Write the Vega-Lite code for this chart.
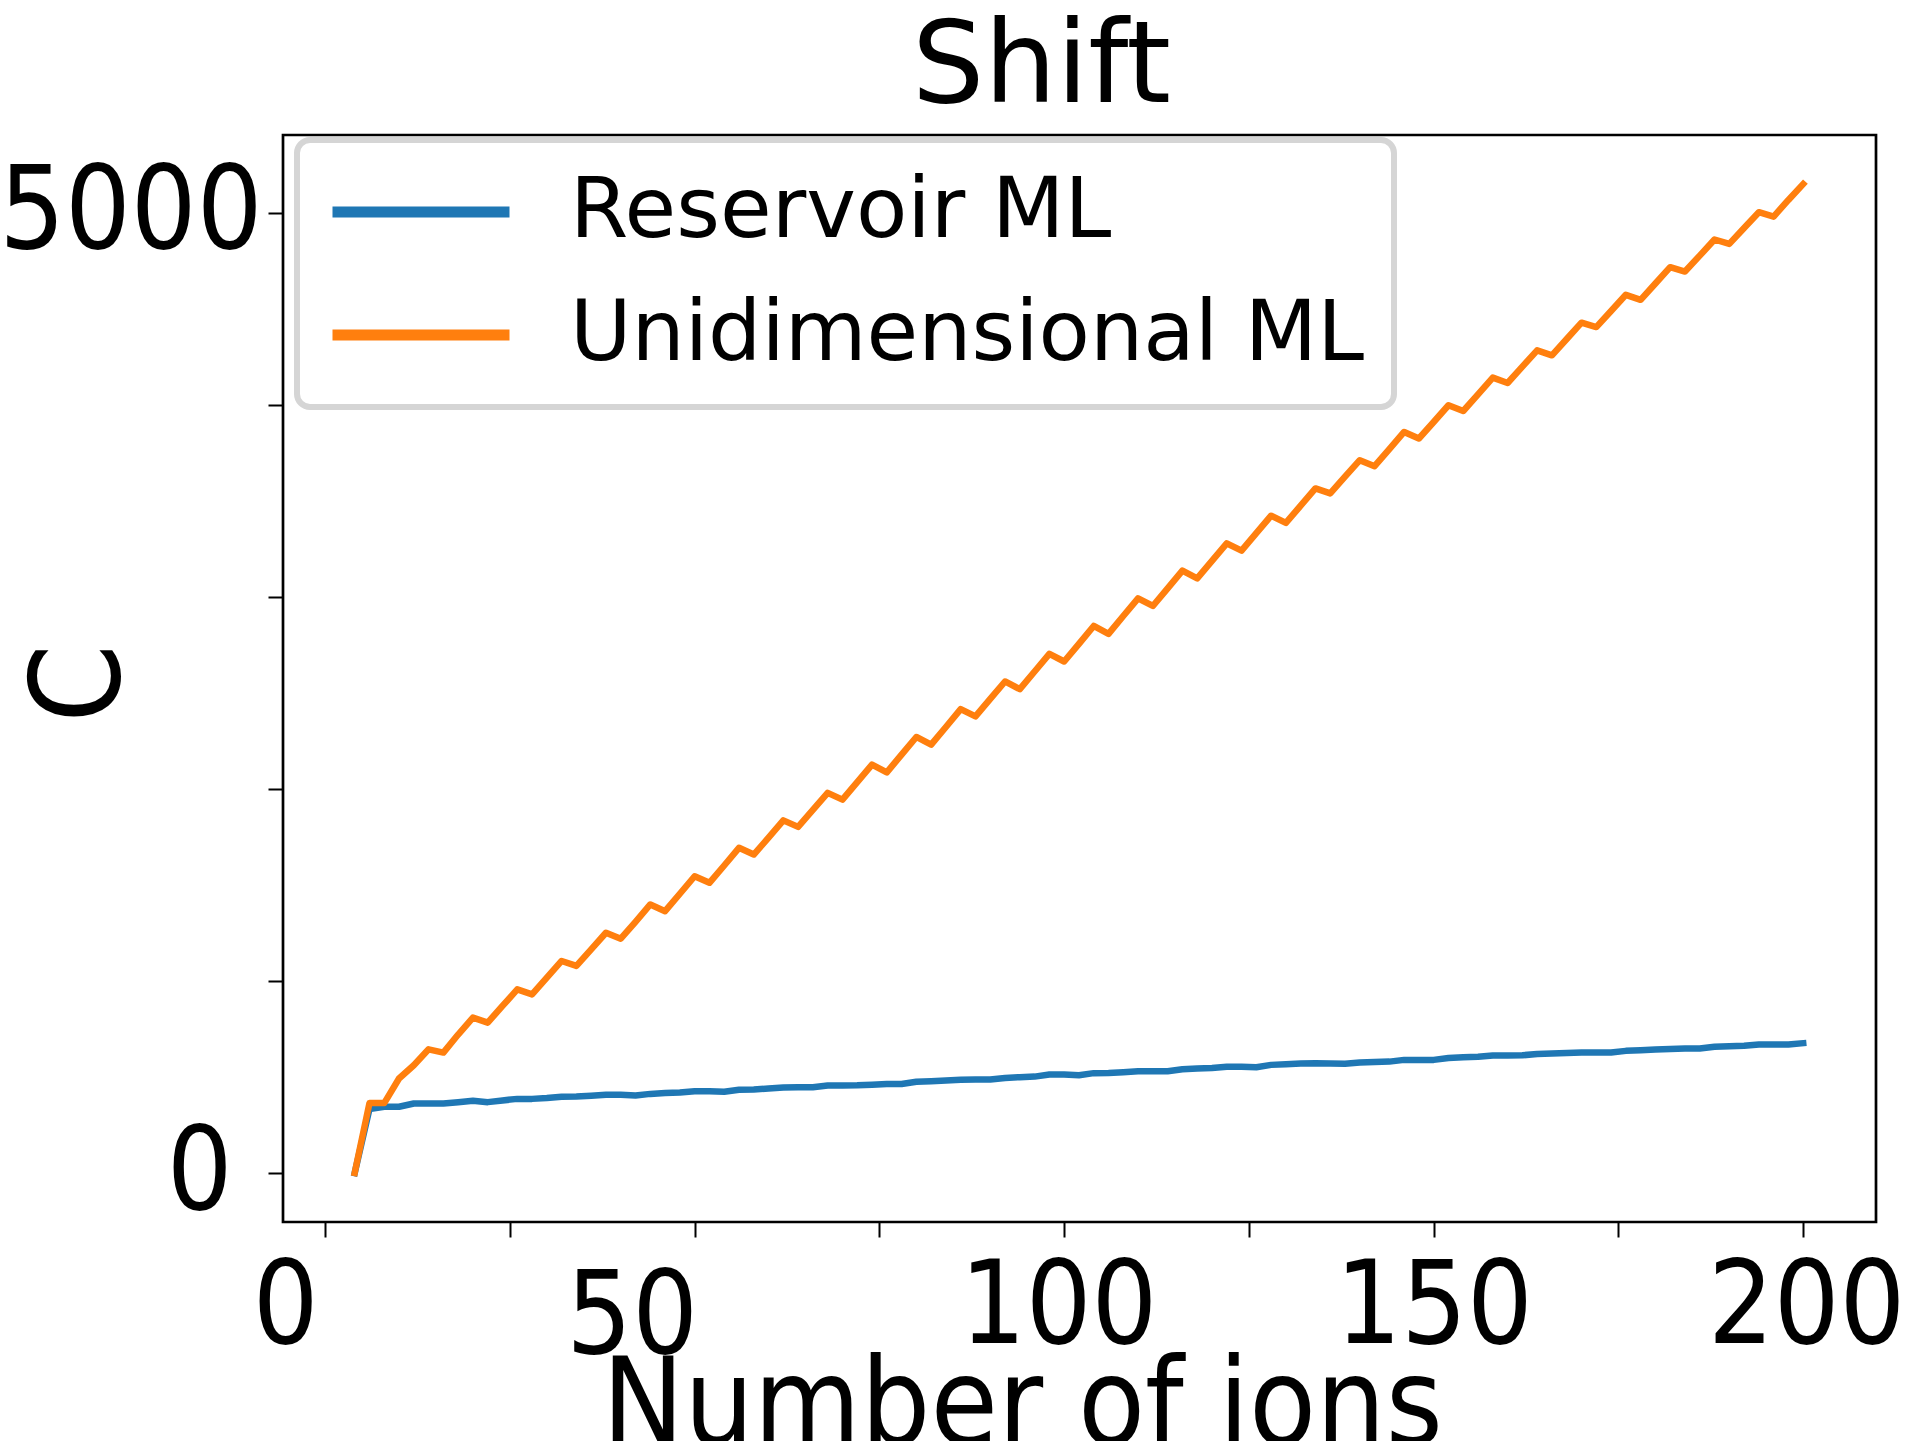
{
  "$schema": "https://vega.github.io/schema/vega-lite/v6.json",
  "width": 1593,
  "height": 1087,
  "autosize": {"type": "none"},
  "padding": {"left": 283, "top": 135, "right": 45, "bottom": 219},
  "background": "white",
  "title": {"text": "Shift", "fontSize": 114, "font": "DejaVu Sans", "fontWeight": "normal", "color": "black", "baseline": "alphabetic", "offset": 31, "dy": 112, "dx": -38, "frame": "group", "anchor": "middle"},
  "data": {"values": [
    {"n":4,"C":0,"m":"Reservoir ML"},{"n":6,"C":333,"m":"Reservoir ML"},{"n":8,"C":345,"m":"Reservoir ML"},{"n":10,"C":345,"m":"Reservoir ML"},{"n":12,"C":362,"m":"Reservoir ML"},{"n":14,"C":362,"m":"Reservoir ML"},{"n":16,"C":362,"m":"Reservoir ML"},{"n":18,"C":369,"m":"Reservoir ML"},{"n":20,"C":376,"m":"Reservoir ML"},{"n":22,"C":369,"m":"Reservoir ML"},{"n":24,"C":378,"m":"Reservoir ML"},{"n":26,"C":386,"m":"Reservoir ML"},{"n":28,"C":386,"m":"Reservoir ML"},{"n":30,"C":390,"m":"Reservoir ML"},{"n":32,"C":397,"m":"Reservoir ML"},{"n":34,"C":398,"m":"Reservoir ML"},{"n":36,"C":402,"m":"Reservoir ML"},{"n":38,"C":407,"m":"Reservoir ML"},{"n":40,"C":407,"m":"Reservoir ML"},{"n":42,"C":404,"m":"Reservoir ML"},{"n":44,"C":412,"m":"Reservoir ML"},{"n":46,"C":416,"m":"Reservoir ML"},{"n":48,"C":419,"m":"Reservoir ML"},{"n":50,"C":426,"m":"Reservoir ML"},{"n":52,"C":426,"m":"Reservoir ML"},{"n":54,"C":423,"m":"Reservoir ML"},{"n":56,"C":433,"m":"Reservoir ML"},{"n":58,"C":435,"m":"Reservoir ML"},{"n":60,"C":440,"m":"Reservoir ML"},{"n":62,"C":445,"m":"Reservoir ML"},{"n":64,"C":447,"m":"Reservoir ML"},{"n":66,"C":447,"m":"Reservoir ML"},{"n":68,"C":456,"m":"Reservoir ML"},{"n":70,"C":456,"m":"Reservoir ML"},{"n":72,"C":457,"m":"Reservoir ML"},{"n":74,"C":460,"m":"Reservoir ML"},{"n":76,"C":464,"m":"Reservoir ML"},{"n":78,"C":463,"m":"Reservoir ML"},{"n":80,"C":475,"m":"Reservoir ML"},{"n":82,"C":478,"m":"Reservoir ML"},{"n":84,"C":482,"m":"Reservoir ML"},{"n":86,"C":485,"m":"Reservoir ML"},{"n":88,"C":487,"m":"Reservoir ML"},{"n":90,"C":487,"m":"Reservoir ML"},{"n":92,"C":495,"m":"Reservoir ML"},{"n":94,"C":499,"m":"Reservoir ML"},{"n":96,"C":502,"m":"Reservoir ML"},{"n":98,"C":513,"m":"Reservoir ML"},{"n":100,"C":513,"m":"Reservoir ML"},{"n":102,"C":509,"m":"Reservoir ML"},{"n":104,"C":520,"m":"Reservoir ML"},{"n":106,"C":521,"m":"Reservoir ML"},{"n":108,"C":525,"m":"Reservoir ML"},{"n":110,"C":530,"m":"Reservoir ML"},{"n":112,"C":530,"m":"Reservoir ML"},{"n":114,"C":530,"m":"Reservoir ML"},{"n":116,"C":540,"m":"Reservoir ML"},{"n":118,"C":544,"m":"Reservoir ML"},{"n":120,"C":547,"m":"Reservoir ML"},{"n":122,"C":553,"m":"Reservoir ML"},{"n":124,"C":553,"m":"Reservoir ML"},{"n":126,"C":551,"m":"Reservoir ML"},{"n":128,"C":563,"m":"Reservoir ML"},{"n":130,"C":566,"m":"Reservoir ML"},{"n":132,"C":570,"m":"Reservoir ML"},{"n":134,"C":572,"m":"Reservoir ML"},{"n":136,"C":570,"m":"Reservoir ML"},{"n":138,"C":569,"m":"Reservoir ML"},{"n":140,"C":575,"m":"Reservoir ML"},{"n":142,"C":578,"m":"Reservoir ML"},{"n":144,"C":580,"m":"Reservoir ML"},{"n":146,"C":589,"m":"Reservoir ML"},{"n":148,"C":589,"m":"Reservoir ML"},{"n":150,"C":589,"m":"Reservoir ML"},{"n":152,"C":599,"m":"Reservoir ML"},{"n":154,"C":603,"m":"Reservoir ML"},{"n":156,"C":605,"m":"Reservoir ML"},{"n":158,"C":612,"m":"Reservoir ML"},{"n":160,"C":612,"m":"Reservoir ML"},{"n":162,"C":613,"m":"Reservoir ML"},{"n":164,"C":620,"m":"Reservoir ML"},{"n":166,"C":622,"m":"Reservoir ML"},{"n":168,"C":625,"m":"Reservoir ML"},{"n":170,"C":627,"m":"Reservoir ML"},{"n":172,"C":627,"m":"Reservoir ML"},{"n":174,"C":627,"m":"Reservoir ML"},{"n":176,"C":636,"m":"Reservoir ML"},{"n":178,"C":639,"m":"Reservoir ML"},{"n":180,"C":643,"m":"Reservoir ML"},{"n":182,"C":646,"m":"Reservoir ML"},{"n":184,"C":648,"m":"Reservoir ML"},{"n":186,"C":648,"m":"Reservoir ML"},{"n":188,"C":657,"m":"Reservoir ML"},{"n":190,"C":660,"m":"Reservoir ML"},{"n":192,"C":662,"m":"Reservoir ML"},{"n":194,"C":669,"m":"Reservoir ML"},{"n":196,"C":669,"m":"Reservoir ML"},{"n":198,"C":669,"m":"Reservoir ML"},{"n":200,"C":676,"m":"Reservoir ML"},
    {"n":4,"C":0,"m":"Unidimensional ML"},{"n":6,"C":364,"m":"Unidimensional ML"},{"n":8,"C":364,"m":"Unidimensional ML"},{"n":10,"C":492,"m":"Unidimensional ML"},{"n":12,"C":561,"m":"Unidimensional ML"},{"n":14,"C":644,"m":"Unidimensional ML"},{"n":16,"C":627,"m":"Unidimensional ML"},{"n":18,"C":721,"m":"Unidimensional ML"},{"n":20,"C":809,"m":"Unidimensional ML"},{"n":22,"C":783,"m":"Unidimensional ML"},{"n":24,"C":870,"m":"Unidimensional ML"},{"n":26,"C":956,"m":"Unidimensional ML"},{"n":28,"C":930,"m":"Unidimensional ML"},{"n":30,"C":1017,"m":"Unidimensional ML"},{"n":32,"C":1104,"m":"Unidimensional ML"},{"n":34,"C":1078,"m":"Unidimensional ML"},{"n":36,"C":1164,"m":"Unidimensional ML"},{"n":38,"C":1251,"m":"Unidimensional ML"},{"n":40,"C":1220,"m":"Unidimensional ML"},{"n":42,"C":1308,"m":"Unidimensional ML"},{"n":44,"C":1398,"m":"Unidimensional ML"},{"n":46,"C":1363,"m":"Unidimensional ML"},{"n":48,"C":1454,"m":"Unidimensional ML"},{"n":50,"C":1545,"m":"Unidimensional ML"},{"n":52,"C":1511,"m":"Unidimensional ML"},{"n":54,"C":1601,"m":"Unidimensional ML"},{"n":56,"C":1693,"m":"Unidimensional ML"},{"n":58,"C":1658,"m":"Unidimensional ML"},{"n":60,"C":1746,"m":"Unidimensional ML"},{"n":62,"C":1836,"m":"Unidimensional ML"},{"n":64,"C":1802,"m":"Unidimensional ML"},{"n":66,"C":1890,"m":"Unidimensional ML"},{"n":68,"C":1979,"m":"Unidimensional ML"},{"n":70,"C":1944,"m":"Unidimensional ML"},{"n":72,"C":2035,"m":"Unidimensional ML"},{"n":74,"C":2126,"m":"Unidimensional ML"},{"n":76,"C":2086,"m":"Unidimensional ML"},{"n":78,"C":2178,"m":"Unidimensional ML"},{"n":80,"C":2270,"m":"Unidimensional ML"},{"n":82,"C":2230,"m":"Unidimensional ML"},{"n":84,"C":2322,"m":"Unidimensional ML"},{"n":86,"C":2415,"m":"Unidimensional ML"},{"n":88,"C":2377,"m":"Unidimensional ML"},{"n":90,"C":2468,"m":"Unidimensional ML"},{"n":92,"C":2559,"m":"Unidimensional ML"},{"n":94,"C":2519,"m":"Unidimensional ML"},{"n":96,"C":2611,"m":"Unidimensional ML"},{"n":98,"C":2703,"m":"Unidimensional ML"},{"n":100,"C":2663,"m":"Unidimensional ML"},{"n":102,"C":2755,"m":"Unidimensional ML"},{"n":104,"C":2848,"m":"Unidimensional ML"},{"n":106,"C":2807,"m":"Unidimensional ML"},{"n":108,"C":2900,"m":"Unidimensional ML"},{"n":110,"C":2992,"m":"Unidimensional ML"},{"n":112,"C":2952,"m":"Unidimensional ML"},{"n":114,"C":3044,"m":"Unidimensional ML"},{"n":116,"C":3136,"m":"Unidimensional ML"},{"n":118,"C":3096,"m":"Unidimensional ML"},{"n":120,"C":3187,"m":"Unidimensional ML"},{"n":122,"C":3278,"m":"Unidimensional ML"},{"n":124,"C":3240,"m":"Unidimensional ML"},{"n":126,"C":3331,"m":"Unidimensional ML"},{"n":128,"C":3422,"m":"Unidimensional ML"},{"n":130,"C":3385,"m":"Unidimensional ML"},{"n":132,"C":3474,"m":"Unidimensional ML"},{"n":134,"C":3564,"m":"Unidimensional ML"},{"n":136,"C":3538,"m":"Unidimensional ML"},{"n":138,"C":3625,"m":"Unidimensional ML"},{"n":140,"C":3711,"m":"Unidimensional ML"},{"n":142,"C":3680,"m":"Unidimensional ML"},{"n":144,"C":3769,"m":"Unidimensional ML"},{"n":146,"C":3858,"m":"Unidimensional ML"},{"n":148,"C":3824,"m":"Unidimensional ML"},{"n":150,"C":3910,"m":"Unidimensional ML"},{"n":152,"C":3997,"m":"Unidimensional ML"},{"n":154,"C":3967,"m":"Unidimensional ML"},{"n":156,"C":4054,"m":"Unidimensional ML"},{"n":158,"C":4141,"m":"Unidimensional ML"},{"n":160,"C":4113,"m":"Unidimensional ML"},{"n":162,"C":4198,"m":"Unidimensional ML"},{"n":164,"C":4283,"m":"Unidimensional ML"},{"n":166,"C":4257,"m":"Unidimensional ML"},{"n":168,"C":4342,"m":"Unidimensional ML"},{"n":170,"C":4427,"m":"Unidimensional ML"},{"n":172,"C":4404,"m":"Unidimensional ML"},{"n":174,"C":4488,"m":"Unidimensional ML"},{"n":176,"C":4572,"m":"Unidimensional ML"},{"n":178,"C":4546,"m":"Unidimensional ML"},{"n":180,"C":4631,"m":"Unidimensional ML"},{"n":182,"C":4716,"m":"Unidimensional ML"},{"n":184,"C":4693,"m":"Unidimensional ML"},{"n":186,"C":4776,"m":"Unidimensional ML"},{"n":188,"C":4860,"m":"Unidimensional ML"},{"n":190,"C":4837,"m":"Unidimensional ML"},{"n":192,"C":4920,"m":"Unidimensional ML"},{"n":194,"C":5002,"m":"Unidimensional ML"},{"n":196,"C":4979,"m":"Unidimensional ML"},{"n":198,"C":5066,"m":"Unidimensional ML"},{"n":200,"C":5149,"m":"Unidimensional ML"}
  ]},
  "mark": {"type": "line", "strokeWidth": 6.5, "strokeCap": "square", "strokeJoin": "round"},
  "encoding": {
    "x": {
      "field": "n", "type": "quantitative",
      "scale": {"domain": [-5.7, 209.85], "nice": false, "zero": false},
      "axis": {
        "values": [0, 25, 50, 75, 100, 125, 150, 175, 200],
        "labelExpr": "datum.value % 50 == 0 ? format(datum.value, 'd') : ''",
        "labelOffset": {"condition": [{"test": "datum.value == 0", "value": -40}, {"test": "datum.value == 50", "value": -63}, {"test": "datum.value == 100", "value": -6}, {"test": "datum.value == 200", "value": 3}], "value": 0},
        "labelPadding": {"condition": {"test": "datum.value == 50", "value": 24}, "value": 14},
        "title": "Number of ions",
        "titleX": 739, "titleY": 221, "titleBaseline": "alphabetic", "titleAlign": "center"
      }
    },
    "y": {
      "field": "C", "type": "quantitative",
      "scale": {"domain": [-255, 5404], "nice": false, "zero": false},
      "axis": {
        "values": [0, 1000, 2000, 3000, 4000, 5000],
        "labelExpr": "datum.value == 0 || datum.value == 5000 ? format(datum.value, 'd') : ''",
        "labelPadding": {"condition": {"test": "datum.value == 0", "value": 36}, "value": 6},
        "title": "C",
        "titleX": -203, "titleY": 548, "titleAngle": 270, "titleBaseline": "middle", "titleAlign": "center", "titleFontSize": 125
      }
    },
    "color": {
      "field": "m", "type": "nominal",
      "scale": {"domain": ["Reservoir ML", "Unidimensional ML"], "range": ["#1f77b4", "#ff7f0e"]},
      "legend": {
        "orient": "none", "legendX": 14, "legendY": 5, "title": null,
        "symbolType": "stroke", "symbolSize": 31329, "symbolStrokeWidth": 11,
        "clipHeight": 84, "labelFontSize": 84, "labelFont": "DejaVu Sans", "labelColor": "black",
        "labelOffset": 55, "rowPadding": 39, "padding": 30, "labelLimit": 0,
        "fillColor": "white", "strokeColor": "#d5d5d5", "cornerRadius": 13
      }
    }
  },
  "config": {
    "view": {"stroke": "black", "strokeWidth": 2.7},
    "legend": {"strokeWidth": 6},
    "axis": {
      "domain": false, "grid": false,
      "tickColor": "black", "tickWidth": 2, "tickSize": 15,
      "labelFont": "DejaVu Sans Condensed, DejaVu Sans", "labelFontSize": 115, "labelColor": "black", "labelLimit": 0,
      "labelFlush": false, "labelOverlap": false, "labelBound": false,
      "titleFont": "DejaVu Sans Condensed, DejaVu Sans", "titleFontSize": 122, "titleFontWeight": "normal", "titleColor": "black", "titleLimit": 0
    }
  }
}
